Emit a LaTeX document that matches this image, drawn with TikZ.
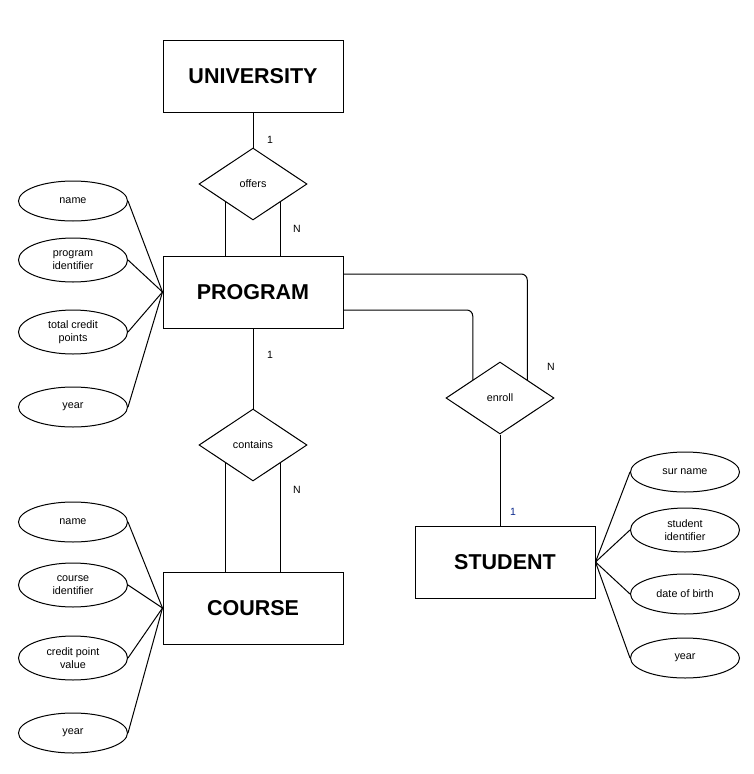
\documentclass[tikz,border=0pt]{standalone}
\usepackage{fontspec}
\setmainfont{Liberation Sans}
\usetikzlibrary{shapes.geometric,calc}
\definecolor{lblblue}{RGB}{10,40,140}
\begin{document}
\begin{tikzpicture}[x=1pt,y=-1pt,
  entity/.style={draw,line width=1pt,minimum width=180pt,minimum height=72pt,inner sep=0pt,font=\fontsize{21.5}{24}\selectfont\bfseries},
  rel/.style={draw,line width=1pt,diamond,aspect=1.5,minimum width=108pt,minimum height=72pt,inner sep=0pt,font=\fontsize{10.8}{13}\selectfont},
  attr/.style={draw,line width=1pt,ellipse,minimum width=109pt,minimum height=40pt,inner sep=0pt,align=center,font=\fontsize{10.8}{12.5}\selectfont},
  attrtwo/.style={attr,minimum height=44pt},
  card/.style={font=\fontsize{10.5}{12}\selectfont,inner sep=0pt},
  conn/.style={line width=1pt}]
\useasboundingbox (0,0) rectangle (754,774);
% entities
\node[entity] (university) at (253,76) {UNIVERSITY};
\node[entity] (program) at (253,292) {PROGRAM};
\node[entity] (course) at (253,608) {COURSE};
\node[entity] (student) at (505,562) {STUDENT};
% relationships
\node[rel] (offers) at (253,184) {offers};
\node[rel] (contains) at (253,445) {contains};
\node[rel] (enroll) at (500,398) {enroll};
% program attributes
\node[attr] (pname) at (73,201) {name};
\node[attrtwo] (pid) at (73,260) {program\\identifier};
\node[attrtwo] (pcred) at (73,332) {total credit\\points};
\node[attr] (pyear) at (73,407) {year};
% course attributes
\node[attr] (cname) at (73,522) {name};
\node[attrtwo] (cid) at (73,585) {course\\identifier};
\node[attrtwo] (ccred) at (73,658) {credit point\\value};
\node[attr] (cyear) at (73,733) {year};
% student attributes
\node[attr] (ssur) at (685,472) {sur name};
\node[attrtwo] (sid) at (685,530) {student\\identifier};
\node[attr] (sdob) at (685,594) {date of birth};
\node[attr] (syear) at (685,658) {year};
% connectors
\draw[conn] (university.south) -- (offers.north);
\draw[conn] (offers.south west) -- (offers.south west |- program.north);
\draw[conn] (offers.south east) -- (offers.south east |- program.north);
\draw[conn] (program.south) -- (contains.north);
\draw[conn] (contains.south west) -- (contains.south west |- course.north);
\draw[conn] (contains.south east) -- (contains.south east |- course.north);
\draw[conn,rounded corners=6pt] ($(program.east)+(0,-18)$) -| (enroll.north east);
\draw[conn,rounded corners=6pt] ($(program.east)+(0,18)$) -| (enroll.north west);
\draw[conn] (enroll.south) -- (enroll.south |- student.north);
\foreach \a in {pname,pid,pcred,pyear} \draw[conn] (\a.east) -- (program.west);
\foreach \a in {cname,cid,ccred,cyear} \draw[conn] (\a.east) -- (course.west);
\foreach \a in {ssur,sid,sdob,syear} \draw[conn] (\a.west) -- (student.east);
% cardinalities
\node[card] (c1) at (270,140) {1};
\node[card] (c2) at (297,229) {N};
\node[card] (c3) at (270,355) {1};
\node[card] (c4) at (297,490) {N};
\node[card] (c5) at (551,367) {N};
\node[card,text=lblblue] (c6) at (513,512) {1};
\end{tikzpicture}
\end{document}
